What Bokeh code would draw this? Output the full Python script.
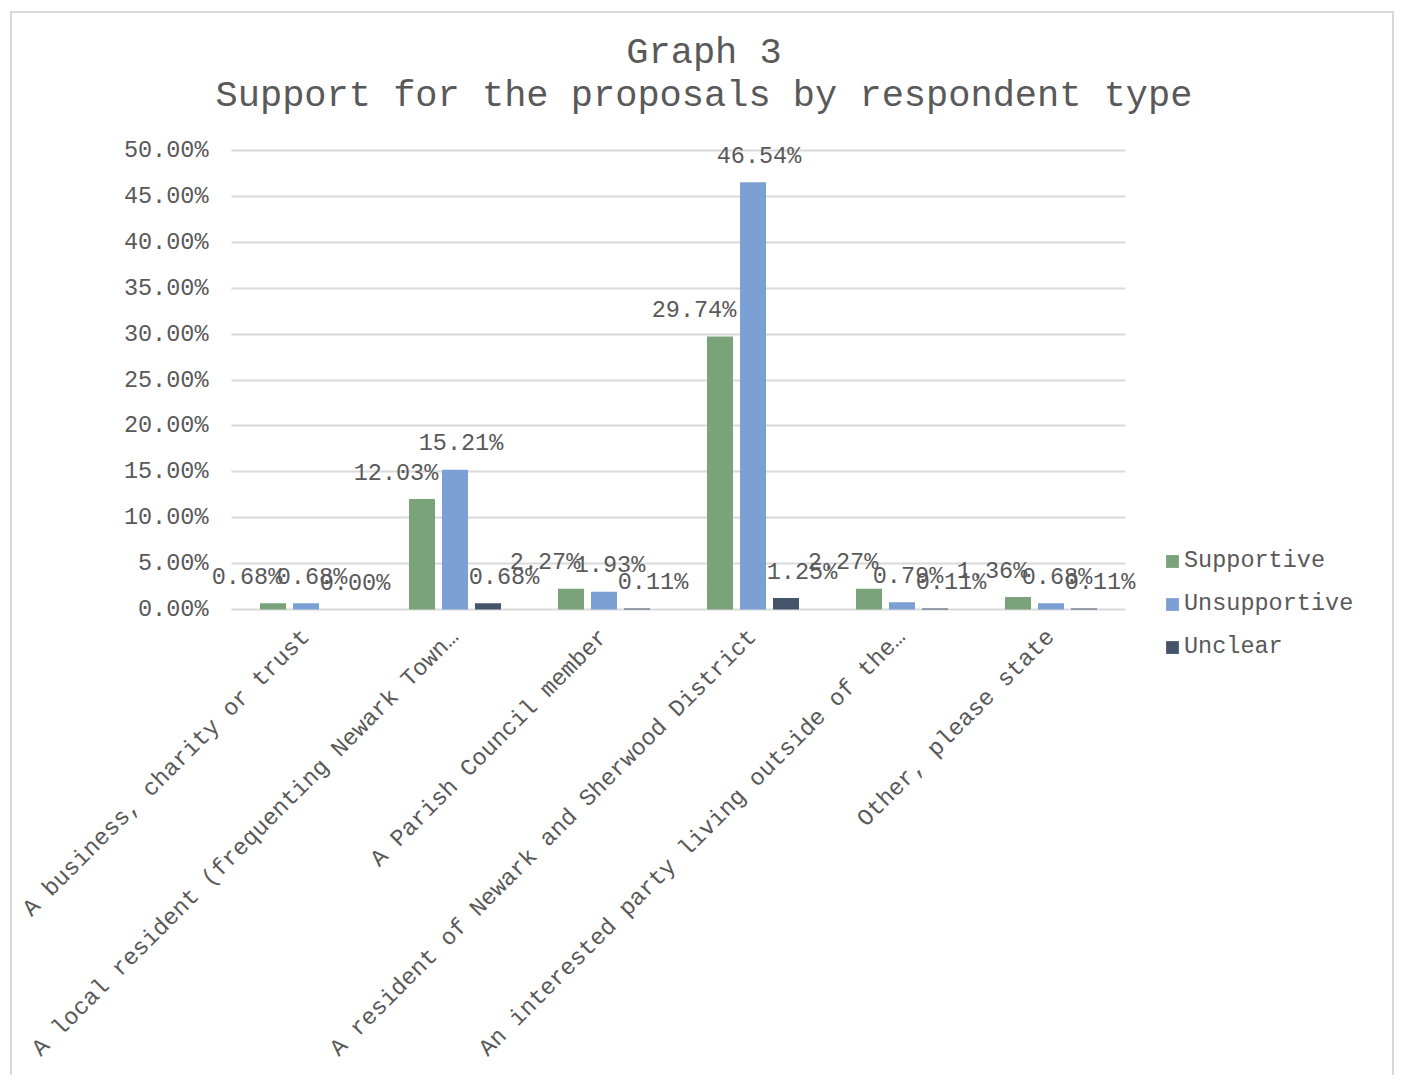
import math
from bokeh.plotting import figure
from bokeh.models import (ColumnDataSource, Range1d, NumeralTickFormatter, FixedTicker,
                          LabelSet, Label, Legend, LegendItem)
from bokeh.core.properties import value
from bokeh.transform import dodge
from bokeh.embed import file_html
from bokeh.resources import INLINE

# ---------------- data ----------------
categories = [
    "A business, charity or trust",
    "A local resident (frequenting Newark Town\u2026",
    "A Parish Council member",
    "A resident of Newark and Sherwood District",
    "An interested party living outside of the\u2026",
    "Other, please state",
]
supportive = [0.68, 12.03, 2.27, 29.74, 2.27, 1.36]
unsupportive = [0.68, 15.21, 1.93, 46.54, 0.79, 0.68]
unclear = [0.00, 0.68, 0.11, 1.25, 0.11, 0.11]
series_names = ["Supportive", "Unsupportive", "Unclear"]
y_ticks = [0, 5, 10, 15, 20, 25, 30, 35, 40, 45, 50]
title_lines = ["Graph 3", "Support for the proposals by respondent type"]

# ---------------- style / layout ----------------
FONT = "Liberation Mono"
FS = "23.5px"
TXT = "#595959"
GRID = "#d9d9d9"
colors = ["#7AA37A", "#7DA0D4", "#44546A"]
offsets = [-0.2215, 0.0, 0.2215]
label_dx = [-26, 6, 16]
BAR_W = 0.1745

# page coordinates of the figure content box (inside a CSS border)
OX, OY = 12, 13
CW, CH = 1384, 1064
# page coordinates of the plot frame
FL, FR, FT, FB = 198, 1390, 14, 662
PLOT_L, PLOT_R = 231, 1125          # value area (gridlines)
Y0 = 609                             # pixel row of 0%
Y50 = 150                            # pixel row of 50%

n = len(categories)
ppx = (PLOT_R - PLOT_L) / n          # pixels per category
ppy = (Y0 - Y50) / 0.5               # pixels per unit of value


def dx(px):
    return (px - PLOT_L) / ppx


def dy(py):
    return (Y0 - py) / ppy


p = figure(x_range=Range1d(dx(FL), dx(FR)), y_range=Range1d(dy(FB), dy(FT)),
           width=CW, height=CH, output_backend="svg", toolbar_location=None,
           min_border_left=FL - OX, min_border_right=(OX + CW) - FR,
           min_border_top=FT - OY, min_border_bottom=(OY + CH) - FB,
           title=None)
p.styles = {"margin-left": f"{OX - 2}px", "margin-top": f"{OY - 2}px",
            "border-left": f"2px solid {GRID}", "border-right": f"2px solid {GRID}",
            "border-top": f"2px solid {GRID}"}
p.outline_line_color = None
p.background_fill_color = "white"
p.border_fill_color = "white"

xc = [i + 0.5 for i in range(n)]
src = ColumnDataSource(dict(
    xc=xc,
    v0=[v / 100 for v in supportive],
    v1=[v / 100 for v in unsupportive],
    v2=[v / 100 for v in unclear],
    t0=[f"{v:.2f}%" for v in supportive],
    t1=[f"{v:.2f}%" for v in unsupportive],
    t2=[f"{v:.2f}%" for v in unclear],
))

items = []
for i, name in enumerate(series_names):
    r = p.vbar(x=dodge("xc", offsets[i]), top=f"v{i}", width=BAR_W,
               source=src, fill_color=colors[i], line_color=None)
    items.append(LegendItem(label=name, renderers=[r]))
    ls = LabelSet(x=dodge("xc", offsets[i]), y=f"v{i}", text=f"t{i}",
                  source=src, x_offset=label_dx[i], y_offset=26,
                  text_align="center", text_baseline="middle",
                  text_font=value(FONT), text_font_size=value(FS), text_color=TXT)
    p.add_layout(ls)

# y axis
p.yaxis.ticker = FixedTicker(ticks=[t / 100 for t in y_ticks])
p.yaxis.formatter = NumeralTickFormatter(format="0.00%")
p.yaxis.axis_line_color = None
p.yaxis.major_tick_line_color = None
p.yaxis.minor_tick_line_color = None
p.yaxis.major_label_standoff = -16
p.yaxis.major_label_text_font = FONT
p.yaxis.major_label_text_font_size = FS
p.yaxis.major_label_text_color = TXT

# x axis (category labels)
p.xaxis.ticker = FixedTicker(ticks=xc)
p.xaxis.major_label_overrides = {x: c for x, c in zip(xc, categories)}
p.xaxis.axis_line_color = None
p.xaxis.major_tick_line_color = None
p.xaxis.minor_tick_line_color = None
p.xaxis.major_label_orientation = math.pi / 4
p.xaxis.major_label_text_font = FONT
p.xaxis.major_label_text_font_size = FS
p.xaxis.major_label_text_color = TXT
p.xaxis.major_label_standoff = -35

p.xgrid.grid_line_color = None
p.ygrid.grid_line_color = GRID
p.ygrid.grid_line_width = 2
p.ygrid.cross_bounds = (0, n)

# legend (area glyphs are drawn at 80% of the glyph box)
legend = Legend(items=items, location=(1164 - FL, FB - 660), orientation="vertical",
                glyph_width=16, glyph_height=16, label_standoff=4,
                label_text_font=FONT, label_text_font_size=FS, label_text_color=TXT,
                label_height=27, spacing=16, padding=0, margin=0,
                border_line_color=None, background_fill_alpha=0)
p.add_layout(legend)

# title
for t, py in zip(title_lines, [52, 95]):
    p.add_layout(Label(x=dx(703.5), y=dy(py), text=t,
                       text_align="center", text_baseline="middle",
                       text_font=FONT, text_font_size="37px", text_color=TXT))

open("out.html", "w").write(file_html(p, INLINE))
